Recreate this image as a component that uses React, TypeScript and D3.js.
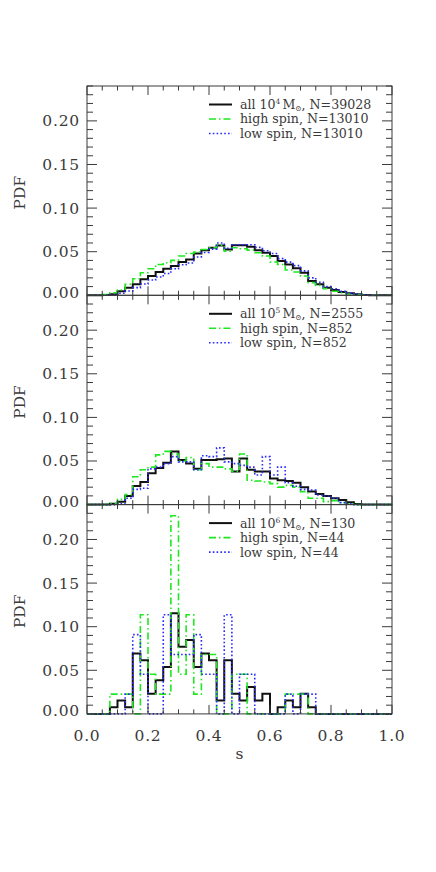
import React from "react";
import * as d3 from "d3";

// bins of width 0.025 over s = 0..1 (40 bins)
const binWidth = 0.025;

// panel 1: 10^4 Msun halos
const allA = [0, 0, 0.0003, 0.0011, 0.0046, 0.0088, 0.0126, 0.0183, 0.0221, 0.0267, 0.0305, 0.0335, 0.0381, 0.0411, 0.048, 0.0518, 0.0545, 0.0571, 0.0526, 0.0575, 0.0575, 0.0556, 0.0518, 0.0488, 0.045, 0.0392, 0.0354, 0.0309, 0.0259, 0.0164, 0.0126, 0.0088, 0.0061, 0.0038, 0.0023, 0.0011, 0.0004, 0, 0, 0];
const highA = [0, 0, 0.0008, 0.003, 0.0061, 0.0126, 0.019, 0.0259, 0.0305, 0.0354, 0.0373, 0.04, 0.045, 0.048, 0.0495, 0.0526, 0.0545, 0.0575, 0.0507, 0.0545, 0.0533, 0.0518, 0.0488, 0.045, 0.0381, 0.0354, 0.029, 0.0267, 0.0221, 0.0145, 0.0114, 0.0076, 0.0046, 0.003, 0.0015, 0.0008, 0, 0, 0, 0];
const lowA = [0, 0, 0, 0.0004, 0.0023, 0.005, 0.0088, 0.013, 0.0175, 0.021, 0.025, 0.0305, 0.035, 0.037, 0.044, 0.049, 0.053, 0.06, 0.054, 0.058, 0.058, 0.058, 0.055, 0.051, 0.048, 0.042, 0.038, 0.034, 0.028, 0.02, 0.015, 0.01, 0.0075, 0.0045, 0.0028, 0.0015, 0.0006, 0, 0, 0];

// panel 2: 10^5 Msun halos
const allB = [0, 0, 0, 0.001, 0.0034, 0.0099, 0.0213, 0.026, 0.036, 0.042, 0.048, 0.061, 0.051, 0.047, 0.041, 0.051, 0.051, 0.052, 0.053, 0.038, 0.053, 0.04, 0.038, 0.038, 0.03, 0.028, 0.027, 0.025, 0.02, 0.0149, 0.0122, 0.0099, 0.0072, 0.0053, 0.0027, 0.0008, 0, 0, 0, 0];
const highB = [0, 0, 0, 0.0015, 0.006, 0.0114, 0.032, 0.04, 0.043, 0.057, 0.061, 0.058, 0.05, 0.054, 0.04, 0.047, 0.043, 0.043, 0.041, 0.038, 0.058, 0.028, 0.027, 0.026, 0.024, 0.02, 0.022, 0.02, 0.0149, 0.0072, 0.0072, 0.0034, 0.0046, 0.0023, 0.0008, 0, 0, 0, 0, 0];
const lowB = [0, 0, 0, 0, 0.0008, 0.0072, 0.0175, 0.0187, 0.041, 0.043, 0.047, 0.055, 0.049, 0.049, 0.04, 0.056, 0.055, 0.065, 0.049, 0.047, 0.045, 0.043, 0.034, 0.055, 0.034, 0.043, 0.025, 0.021, 0.0175, 0.0168, 0.011, 0.0099, 0.0072, 0.0023, 0.0008, 0, 0, 0, 0, 0];

// panel 3: 10^6 Msun halos (counts per bin)
const allC = [0, 0, 0, 1, 2, 1, 9, 8, 3, 5, 7, 15, 10, 11, 7, 9, 8, 2, 8, 3, 2, 4, 2, 3, 0, 1, 2, 1, 3, 1, 0, 0, 0, 0, 0, 0, 0, 0, 0, 0];
const highC = [0, 0, 0, 1, 1, 1, 0, 5, 2, 1, 1, 10, 2, 5, 1, 3, 3, 0, 0, 2, 2, 0, 0, 0, 0, 0, 1, 1, 1, 0, 0, 0, 0, 0, 0, 0, 0, 0, 0, 0];
const lowC = [0, 0, 0, 0, 0, 1, 4, 2, 0, 0, 5, 3, 3, 3, 4, 2, 2, 0, 5, 0, 2, 2, 0, 0, 0, 0, 1, 0, 1, 1, 0, 0, 0, 0, 0, 0, 0, 0, 0, 0];
const nAllC = 130;
const nHalfC = 44;

const yTicks = [0, 0.05, 0.1, 0.15, 0.2];
const xTicks = [0, 0.2, 0.4, 0.6, 0.8, 1.0];

const panels = [
  {
    all: allA, high: highA, low: lowA,
    legend: [["all 10", "4", "M", "\u2299", ", N=39028"], "high spin, N=13010", "low spin, N=13010"],
  },
  {
    all: allB, high: highB, low: lowB,
    legend: [["all 10", "5", "M", "\u2299", ", N=2555"], "high spin, N=852", "low spin, N=852"],
  },
  {
    all: allC.map((c) => c / nAllC), high: highC.map((c) => c / nHalfC), low: lowC.map((c) => c / nHalfC),
    legend: [["all 10", "6", "M", "\u2299", ", N=130"], "high spin, N=44", "low spin, N=44"],
  },
];

const W = 436, H = 872;
const left = 87, right = 392;
const top0 = 86, panelH = 209.3;
const font = "'DejaVu Serif', serif";
const ink = "#3a3a3a";

const styles = [
  { key: "all", stroke: "#111", width: 2, dash: "none" },
  { key: "high", stroke: "#1ee81e", width: 1.6, dash: "7,3,1.5,3" },
  { key: "low", stroke: "#2a2aff", width: 1.6, dash: "1.6,2.2" },
];

const x = d3.scaleLinear().domain([0, 1]).range([left, right]);

function stepPoints(vals: number[]): [number, number][] {
  const pts: [number, number][] = vals.map((v, i) => [i * binWidth, v]);
  pts.push([1, vals[vals.length - 1]]);
  return pts;
}

function Panel({ p, idx }: { p: any; idx: number }) {
  const pt = top0 + idx * panelH;
  const pb = pt + panelH;
  const y = d3.scaleLinear().domain([0, 0.24]).range([pb, pt]);
  const line = d3
    .line<[number, number]>()
    .x((d) => x(d[0]))
    .y((d) => y(d[1]))
    .curve(d3.curveStepAfter);
  const yMinor = d3.range(0, 0.2401, 0.01);
  const xMinor = d3.range(0, 1.0001, 0.05);
  const legX = 209, legTxt = 240, legY = pt + 18.5, legDy = 14.5;
  return (
    <g>
      {styles.map((s) => (
        <path
          key={s.key}
          d={line(stepPoints(p[s.key])) || ""}
          fill="none"
          stroke={s.stroke}
          strokeWidth={s.width}
          strokeDasharray={s.dash}
        />
      ))}
      <rect x={left} y={pt} width={right - left} height={panelH} fill="none" stroke={ink} strokeWidth={1} />
      {yMinor.map((v, i) => {
        const major = i % 5 === 0;
        const len = major ? 10 : 6;
        return (
          <g key={"y" + i}>
            <line x1={left} x2={left + len} y1={y(v)} y2={y(v)} stroke={ink} />
            <line x1={right} x2={right - len} y1={y(v)} y2={y(v)} stroke={ink} />
          </g>
        );
      })}
      {xMinor.map((v, i) => {
        const major = i % 4 === 0;
        const len = major ? 9 : 4.5;
        return (
          <g key={"x" + i}>
            <line x1={x(v)} x2={x(v)} y1={pb} y2={pb - len} stroke={ink} />
            <line x1={x(v)} x2={x(v)} y1={pt} y2={pt + len} stroke={ink} />
          </g>
        );
      })}
      {yTicks.map((v) => (
        <text
          key={"yl" + v}
          x={left - 7}
          y={y(v) - (v === 0 ? 3 : 0)}
          dy="0.35em"
          textAnchor="end"
          fontFamily={font}
          fontSize={15.5}
          letterSpacing={0.8}
          fill={ink}
        >
          {d3.format(".2f")(v)}
        </text>
      ))}
      <text
        transform={`translate(25,${(pt + pb) / 2 + 2}) rotate(-90)`}
        textAnchor="middle"
        fontFamily={font}
        fontSize={15.5}
        fill={ink}
      >
        PDF
      </text>
      {styles.map((s, i) => (
        <g key={"lg" + i}>
          <line
            x1={legX}
            x2={legX + 23}
            y1={legY + i * legDy}
            y2={legY + i * legDy}
            stroke={s.stroke}
            strokeWidth={s.width}
            strokeDasharray={s.dash}
          />
          <text x={legTxt} y={legY + i * legDy} dy="0.35em" fontFamily={font} fontSize={12.6} fill={ink}>
            {typeof p.legend[i] === "string" ? (
              p.legend[i]
            ) : (
              <>
                <tspan>{p.legend[i][0]}</tspan>
                <tspan fontSize={7.5} dy="-5">{p.legend[i][1]}</tspan>
                <tspan dy="5" dx="2">{p.legend[i][2]}</tspan>
                <tspan fontSize={7.5} dy="2">{p.legend[i][3]}</tspan>
                <tspan dy="-2">{p.legend[i][4]}</tspan>
              </>
            )}
          </text>
        </g>
      ))}
    </g>
  );
}

export default function App() {
  const bottom = top0 + 3 * panelH;
  return (
    <svg width={W} height={H} style={{ position: "absolute", left: 0, top: 0, background: "#fff" }}>
      {panels.map((p, i) => (
        <Panel key={i} p={p} idx={i} />
      ))}
      {xTicks.map((v) => (
        <text
          key={"xl" + v}
          x={x(v)}
          y={bottom + 22}
          dy="0.35em"
          textAnchor="middle"
          fontFamily={font}
          fontSize={15.5}
          letterSpacing={0.8}
          fill={ink}
        >
          {d3.format(".1f")(v)}
        </text>
      ))}
      <text x={x(0.5)} y={bottom + 45} textAnchor="middle" fontFamily={font} fontSize={15.5} fill={ink}>
        s
      </text>
    </svg>
  );
}
